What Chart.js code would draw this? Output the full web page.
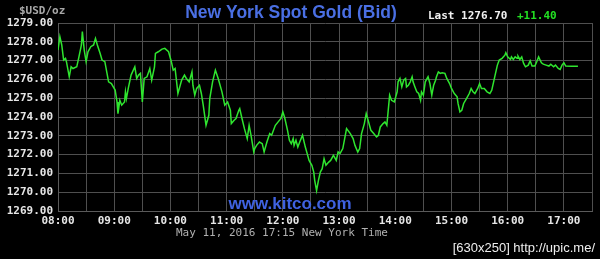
<!DOCTYPE html>
<html>
<head>
<meta charset="utf-8">
<script src="https://cdn.jsdelivr.net/npm/chart.js@4"></script>
<style>
html,body{margin:0;padding:0;background:#000;}
#wrap{width:600px;height:259px;position:relative;}
</style>
</head>
<body>
<div id="wrap"><canvas id="c" width="600" height="259"></canvas></div>
<script>
// minutes after 08:00 New York time
const minutes = [
0,2,4,6,8,9,12,14,16,20,22,25,26,28,30,32,35,38,40,42,45,47,50,54,57,61,63,64,66,68,71,72,73,75,78,82,84,86,88,90,92,95,98,100,103,104,107,111,114,118,121,
123,125,128,132,135,137,140,143,144,146,148,151,153,155,158,161,162,165,168,171,175,178,181,184,185,188,190,193,194,196,199,202,204,206,209,210,212,215,218,220,223,226,228,232,235,238,240,242,
245,247,249,251,252,254,256,258,261,264,266,268,271,273,274,276,278,280,282,284,286,289,291,294,297,299,301,304,306,308,312,315,317,320,322,324,327,329,331,334,337,340,342,344,347,349,351,
354,356,359,362,363,365,367,369,371,372,374,376,378,379,381,383,385,387,388,390,392,394,395,397,399,401,403,404,406,408,410,413,415,418,420,423,426,427,429,431,433,436,439,441,443,445,448,450,452,455,458,461,463,465,
467,469,471,474,477,478,480,483,484,486,488,490,491,493,495,497,499,502,504,506,509,511,513,516,518,521,524,526,529,531,534,536,538,540,542,548,555
];
// spot gold bid, USD/oz
const prices = [
1277.56,1278.27,1277.83,1277.03,1277.12,1276.94,1276.14,1276.67,1276.58,1276.67,1277.12,1277.83,1278.54,1277.56,1276.94,1277.47,1277.74,1277.83,1278.18,1277.83,1277.38,1277.03,1276.94,1275.87,1275.78,1275.43,1274.80,1274.18,1274.89,1274.63,1274.80,1275.34,1274.98,1275.52,1276.23,1276.67,1276.05,1276.23,1276.32,1274.80,1276.05,1276.14,1276.58,1275.96,1276.67,1277.38,1277.47,1277.61,1277.65,1277.47,1276.94,
1276.49,1276.58,1275.25,1275.96,1276.23,1276.05,1275.87,1276.40,1275.69,1275.16,1275.52,1275.69,1275.25,1274.63,1273.56,1274.09,1274.98,1275.87,1276.49,1276.05,1275.34,1274.63,1274.80,1274.36,1273.65,1273.83,1273.92,1274.36,1274.45,1274.00,1273.38,1272.85,1273.56,1273.03,1272.14,1272.32,1272.49,1272.67,1272.58,1272.14,1272.67,1273.12,1273.03,1273.56,1273.74,1273.92,1274.27,1273.96,
1273.29,1272.76,1272.58,1272.85,1272.49,1272.76,1272.40,1272.67,1273.03,1272.40,1272.05,1271.69,1271.43,1271.07,1270.63,1270.09,1270.63,1271.07,1271.25,1271.78,1271.43,1271.60,1271.69,1271.96,1271.69,1272.14,1272.05,1272.32,1272.85,1273.38,1273.12,1272.85,1272.49,1272.14,1272.32,1273.12,1273.65,1274.18,1273.83,1273.29,1273.12,1272.94,1273.03,1273.47,1273.65,1273.74,1273.56,
1275.16,1274.89,1274.80,1275.34,1275.87,1276.05,1275.60,1275.96,1276.05,1275.60,1275.69,1275.87,1276.14,1275.87,1275.60,1275.34,1275.25,1274.89,1275.34,1275.16,1275.87,1276.05,1276.14,1275.78,1275.16,1275.69,1275.96,1276.14,1276.40,1276.32,1276.35,1276.32,1276.05,1275.78,1275.52,1275.25,1275.07,1274.72,1274.27,1274.36,1274.72,1274.98,1275.25,1275.52,1275.34,1275.25,1275.52,1275.78,1275.52,1275.52,1275.34,1275.25,1275.43,1275.87,
1276.32,1276.76,1277.03,1277.12,1277.29,1277.42,1277.20,1277.06,1277.20,1277.06,1277.20,1277.12,1277.24,1277.06,1277.20,1276.85,1276.67,1276.76,1276.99,1276.71,1276.71,1276.94,1277.20,1276.88,1276.81,1276.76,1276.71,1276.81,1276.67,1276.76,1276.58,1276.53,1276.76,1276.88,1276.71,1276.70,1276.70
];
const hourLabels = ['08:00','09:00','10:00','11:00','12:00','13:00','14:00','15:00','16:00','17:00'];
const yMin = 1269, yMax = 1279;
const xMin = 0, xMax = 570;
const titleText = 'New York Spot Gold (Bid)';
const unitText = '$USD/oz';
const lastText = 'Last 1276.70';
const changeText = '+11.40';
const siteText = 'www.kitco.com';
const dateText = 'May 11, 2016 17:15 New York Time';
const creditText = '[630x250] http://upic.me/';

const points = minutes.map((m, i) => ({x: m, y: prices[i]}));

const MONO = '"DejaVu Sans Mono", monospace';
const SANS = '"Liberation Sans", Arial, sans-serif';

const bgPlugin = {
  id: 'bg',
  beforeDraw(chart) {
    const ctx = chart.ctx;
    ctx.save();
    ctx.fillStyle = '#000';
    ctx.fillRect(0, 0, chart.width, chart.height);
    ctx.restore();
  }
};

const textPlugin = {
  id: 'texts',
  afterDraw(chart) {
    const ctx = chart.ctx;
    ctx.save();
    ctx.textBaseline = 'alphabetic';
    // title
    ctx.font = 'bold 17.5px ' + SANS;
    ctx.fillStyle = '#4a6fe3';
    ctx.textAlign = 'center';
    ctx.fillText(titleText, 291, 18);
    // unit
    ctx.font = 'bold 11px ' + MONO;
    ctx.fillStyle = '#a8a8a8';
    ctx.textAlign = 'left';
    ctx.fillText(unitText, 19, 14);
    // last
    ctx.fillStyle = '#f0f0f0';
    ctx.fillText(lastText, 428, 19);
    ctx.fillStyle = '#22e022';
    ctx.fillText(changeText, 517, 19);
    // site
    ctx.font = 'bold 17px ' + SANS;
    ctx.fillStyle = '#3f62e0';
    ctx.textAlign = 'center';
    ctx.fillText(siteText, 290, 209);
    // date
    ctx.font = '11px ' + MONO;
    ctx.fillStyle = '#b0b0b0';
    ctx.textAlign = 'left';
    ctx.fillText(dateText, 176, 236);
    // credit
    ctx.font = '13px ' + SANS;
    ctx.fillStyle = '#eeeeee';
    ctx.textAlign = 'right';
    ctx.fillText(creditText, 595, 252);
    ctx.restore();
  }
};

new Chart(document.getElementById('c'), {
  type: 'line',
  data: {
    datasets: [{
      data: points,
      borderColor: '#2fe52f',
      borderWidth: 1.5,
      pointRadius: 0,
      tension: 0,
      fill: false
    }]
  },
  options: {
    responsive: false,
    animation: false,
    events: [],
    layout: { padding: { top: 23, right: 8, left: 0, bottom: 0 } },
    plugins: { legend: { display: false }, tooltip: { enabled: false }, title: { display: false } },
    scales: {
      x: {
        type: 'linear',
        min: xMin, max: xMax,
        afterFit(s) { s.height = 48; },
        grid: { color: '#4f4f4f', lineWidth: 1, drawTicks: false },
        border: { color: '#5a5a5a', width: 1 },
        ticks: {
          stepSize: 30,
          autoSkip: false,
          maxRotation: 0,
          padding: 4,
          color: '#e6e6e6',
          font: { family: MONO, size: 11, weight: 'bold' },
          callback: (v) => (v % 60 === 0 ? hourLabels[v / 60] : '')
        }
      },
      y: {
        min: yMin, max: yMax,
        afterFit(s) { s.width = 58; },
        grid: { color: '#4f4f4f', lineWidth: 1, drawTicks: false },
        border: { color: '#5a5a5a', width: 1 },
        ticks: {
          stepSize: 1,
          padding: 5,
          color: '#e6e6e6',
          font: { family: MONO, size: 11, weight: 'bold' },
          callback: (v) => v.toFixed(2)
        }
      }
    }
  },
  plugins: [bgPlugin, textPlugin]
});
</script>
</body>
</html>
